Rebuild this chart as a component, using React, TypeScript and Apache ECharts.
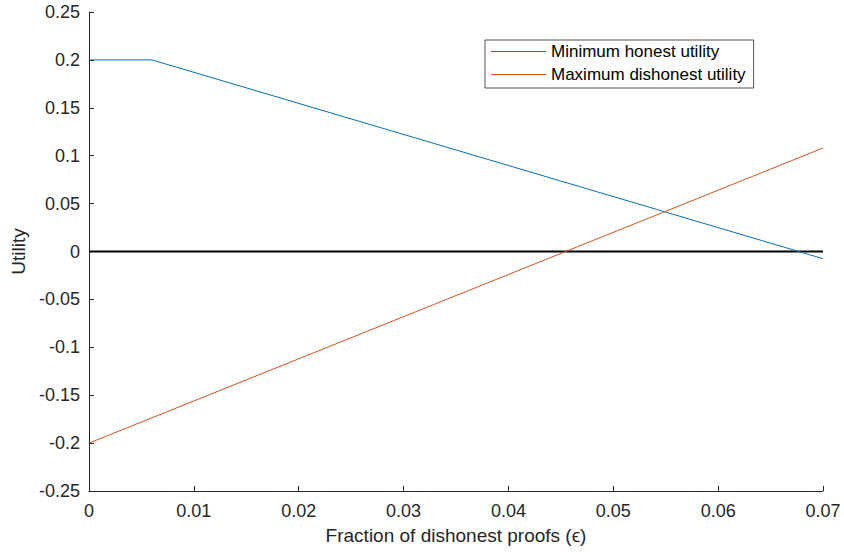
import React, { useEffect, useRef } from "react";
import * as echarts from "echarts";

const honestX = [0, 0.006, 0.07];
const honestY = [0.2, 0.2, -0.0075];
const dishonestX = [0, 0.07];
const dishonestY = [-0.2, 0.108];
const zeroX = [0, 0.07];
const zeroY = [0, 0];
const seriesNames = ["Minimum honest utility", "Maximum dishonest utility"];
const seriesColors = ["#0072BD", "#D95319"];

const pair = (xs: number[], ys: number[]) => xs.map((x, i) => [x, ys[i]]);

const FONT = "'Liberation Sans', Arial, sans-serif";
const INK = "#262626";

export default function App() {
  const ref = useRef<HTMLDivElement>(null);
  useEffect(() => {
    if (!ref.current) return;
    const chart = echarts.init(ref.current, undefined, { renderer: "svg" });
    chart.setOption({
      animation: false,
      backgroundColor: "#ffffff",
      textStyle: { fontFamily: FONT },
      grid: { left: 89, right: 21, top: 12, bottom: 61, containLabel: false },
      legend: {
        data: seriesNames.map((n, i) => ({
          name: n,
          icon: "path://M0 0H55V1H0Z",
          itemStyle: {
            color: seriesColors[i],
            borderColor: seriesColors[i],
            borderWidth: 0,
            opacity: 1,
          },
        })),
        orient: "vertical",
        left: 485,
        top: 40,
        itemWidth: 55,
        itemHeight: 1,
        itemGap: 6,
        padding: [3, 8, 5, 6],
        borderColor: "#262626",
        borderWidth: 0.8,
        backgroundColor: "#ffffff",
        textStyle: { fontFamily: FONT, fontSize: 17, color: "#000" },
      },
      xAxis: {
        type: "value",
        min: 0,
        max: 0.07,
        interval: 0.01,
        name: "Fraction of dishonest proofs (\u03f5)",
        nameLocation: "middle",
        nameGap: 35,
        nameTextStyle: { fontFamily: FONT, fontSize: 19, color: INK },
        axisLine: { show: true, onZero: false, lineStyle: { color: INK, width: 1 } },
        axisTick: { show: true, inside: true, length: 5, lineStyle: { color: INK } },
        axisLabel: { fontFamily: FONT, fontSize: 18, color: INK, margin: 11 },
        splitLine: { show: false },
      },
      yAxis: {
        type: "value",
        min: -0.25,
        max: 0.25,
        interval: 0.05,
        name: "Utility",
        nameLocation: "middle",
        nameGap: 59,
        nameTextStyle: { fontFamily: FONT, fontSize: 19, color: INK },
        axisLine: { show: true, onZero: false, lineStyle: { color: INK, width: 1 } },
        axisTick: { show: true, inside: true, length: 5, lineStyle: { color: INK } },
        axisLabel: { fontFamily: FONT, fontSize: 18, color: INK, margin: 9 },
        splitLine: { show: false },
      },
      series: [
        {
          name: seriesNames[0],
          type: "line",
          data: pair(honestX, honestY),
          symbol: "none",
          color: seriesColors[0],
          lineStyle: { color: seriesColors[0], width: 1 },
          itemStyle: { color: seriesColors[0] },
          z: 3,
        },
        {
          name: seriesNames[1],
          type: "line",
          data: pair(dishonestX, dishonestY),
          symbol: "none",
          color: seriesColors[1],
          lineStyle: { color: seriesColors[1], width: 1 },
          itemStyle: { color: seriesColors[1] },
          z: 3,
        },
        {
          name: "zero",
          type: "line",
          data: pair(zeroX, zeroY),
          symbol: "none",
          color: "#000000",
          lineStyle: { color: "#000000", width: 2 },
          z: 2,
        },
      ],
    });
    return () => chart.dispose();
  }, []);
  return <div ref={ref} style={{ width: 844, height: 552, position: "absolute", left: 0, top: 0 }} />;
}
